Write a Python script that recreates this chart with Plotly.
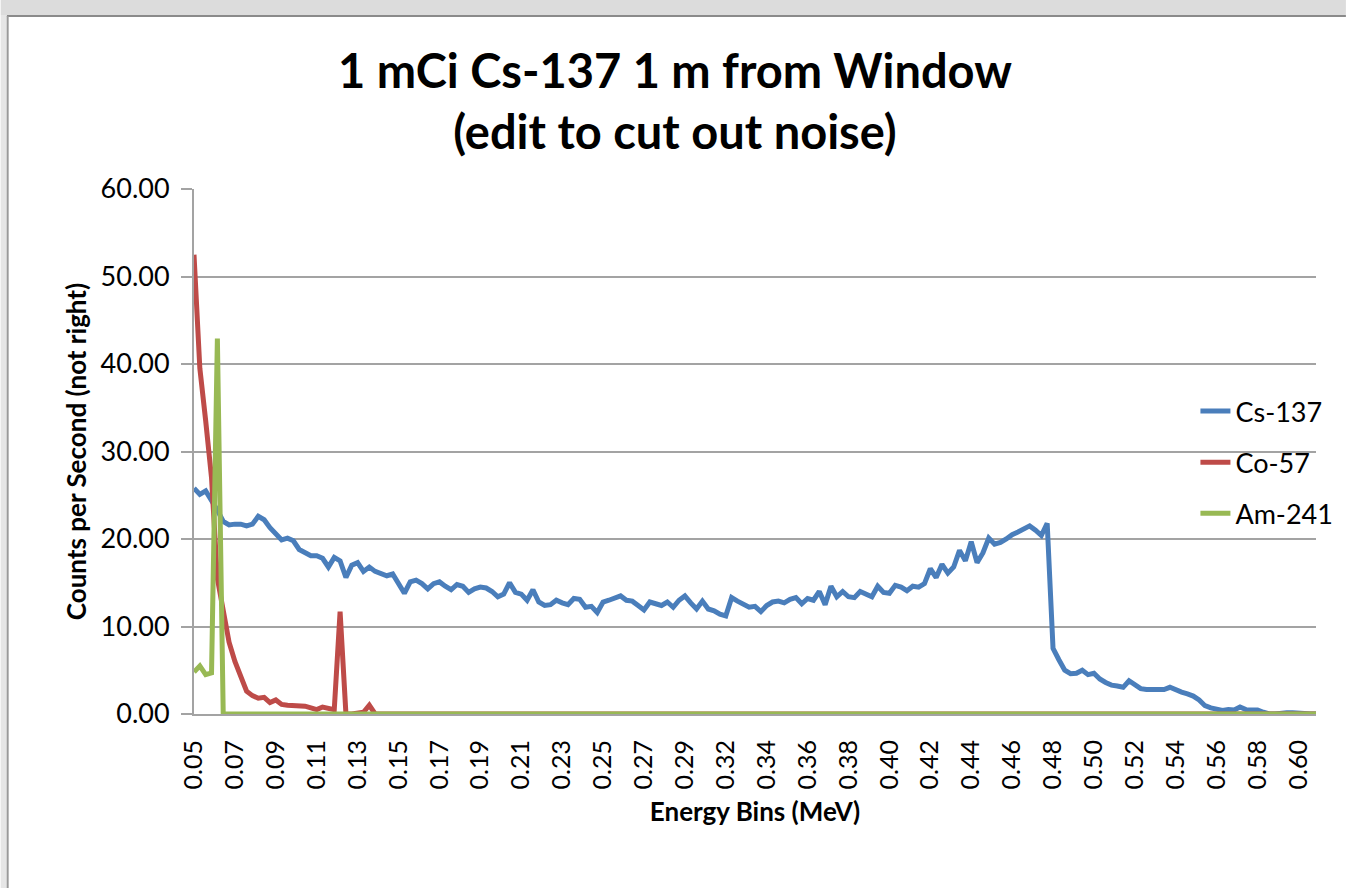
import plotly.graph_objects as go

# ---------------- data ----------------
series_names = ["Cs-137", "Co-57", "Am-241"]
series_colors = ["#4A7EBB", "#BE4B48", "#98B954"]

# Energy bins (MeV): regular bins starting at 0.050 MeV
bin_start_mev = 0.0500
bin_width_mev = 0.002914
n_bins = 193

tick_labels = ["0.05", "0.07", "0.09", "0.11", "0.13", "0.15", "0.17", "0.19",
               "0.21", "0.23", "0.25", "0.27", "0.29", "0.32", "0.34", "0.36",
               "0.38", "0.40", "0.42", "0.44", "0.46", "0.48", "0.50", "0.52",
               "0.54", "0.56", "0.58", "0.60"]
label_every = 7

cs137 = [
    25.8, 25.1, 25.5, 24.5, 23.3, 22.0, 21.6, 21.7, 21.7, 21.5,
    21.7, 22.6, 22.2, 21.3, 20.6, 19.9, 20.1, 19.8, 18.8, 18.4,
    18.1, 18.1, 17.8, 16.8, 17.9, 17.5, 15.6, 17.0, 17.3, 16.3,
    16.8, 16.3, 16.0, 15.8, 16.0, 14.9, 13.8, 15.1, 15.3, 14.9,
    14.3, 14.9, 15.1, 14.6, 14.2, 14.8, 14.6, 13.9, 14.3, 14.5,
    14.4, 14.0, 13.4, 13.7, 15.0, 13.9, 13.7, 13.0, 14.2, 12.8,
    12.4, 12.5, 13.0, 12.7, 12.5, 13.2, 13.1, 12.2, 12.3, 11.6,
    12.8, 13.0, 13.3, 13.5, 13.0, 12.9, 12.4, 11.9, 12.8, 12.6,
    12.4, 12.8, 12.2, 13.0, 13.5, 12.7, 12.0, 12.9, 12.0, 11.8,
    11.4, 11.2, 13.3, 12.9, 12.5, 12.2, 12.3, 11.7, 12.4, 12.8,
    12.9, 12.7, 13.1, 13.3, 12.6, 13.2, 13.0, 14.0, 12.5, 14.6,
    13.4, 14.0, 13.4, 13.3, 14.0, 13.7, 13.4, 14.6, 13.9, 13.8,
    14.7, 14.5, 14.1, 14.6, 14.5, 14.9, 16.6, 15.6, 17.1, 16.1,
    16.8, 18.7, 17.5, 19.7, 17.3, 18.4, 20.1, 19.4, 19.6, 20.0,
    20.5, 20.8, 21.1, 21.5, 21.0, 20.4, 21.8, 7.5, 6.2, 5.0,
    4.6, 4.65, 5.0, 4.5, 4.65, 4.0, 3.6, 3.3, 3.2, 3.05,
    3.8, 3.3, 2.9, 2.8, 2.8, 2.8, 2.8, 3.05, 2.7, 2.5,
    2.3, 2.05, 1.6, 0.95, 0.7, 0.6, 0.4, 0.5, 0.45, 0.8,
    0.5, 0.45, 0.45, 0.2, 0.0, 0.0, 0.1, 0.15, 0.15, 0.15,
    0.05, 0.0, 0.0,
]

co57 = [
    52.5, 39.5, 33.5, 27.0, 15.5, 11.5, 8.2, 6.0, 4.2, 2.6,
    2.1, 1.8, 1.9, 1.3, 1.6, 1.1, 1.0, 0.95, 0.95, 0.9,
    0.7, 0.5, 0.8, 0.6, 0.5, 11.7, 0.0, 0.0, 0.1, 0.2,
    1.0, 0.0, 0.0, 0.0, 0.0, 0.0, 0.0, 0.0, 0.0, 0.0,
    0.0, 0.0, 0.0, 0.0, 0.0, 0.0, 0.0, 0.0, 0.0, 0.0,
    0.0, 0.0, 0.0, 0.0, 0.0, 0.0, 0.0, 0.0, 0.0, 0.0,
    0.0, 0.0, 0.0, 0.0, 0.0, 0.0, 0.0, 0.0, 0.0, 0.0,
    0.0, 0.0, 0.0, 0.0, 0.0, 0.0, 0.0, 0.0, 0.0, 0.0,
    0.0, 0.0, 0.0, 0.0, 0.0, 0.0, 0.0, 0.0, 0.0, 0.0,
    0.0, 0.0, 0.0, 0.0, 0.0, 0.0, 0.0, 0.0, 0.0, 0.0,
    0.0, 0.0, 0.0, 0.0, 0.0, 0.0, 0.0, 0.0, 0.0, 0.0,
    0.0, 0.0, 0.0, 0.0, 0.0, 0.0, 0.0, 0.0, 0.0, 0.0,
    0.0, 0.0, 0.0, 0.0, 0.0, 0.0, 0.0, 0.0, 0.0, 0.0,
    0.0, 0.0, 0.0, 0.0, 0.0, 0.0, 0.0, 0.0, 0.0, 0.0,
    0.0, 0.0, 0.0, 0.0, 0.0, 0.0, 0.0, 0.0, 0.0, 0.0,
    0.0, 0.0, 0.0, 0.0, 0.0, 0.0, 0.0, 0.0, 0.0, 0.0,
    0.0, 0.0, 0.0, 0.0, 0.0, 0.0, 0.0, 0.0, 0.0, 0.0,
    0.0, 0.0, 0.0, 0.0, 0.0, 0.0, 0.0, 0.0, 0.0, 0.0,
    0.0, 0.0, 0.0, 0.0, 0.0, 0.0, 0.0, 0.0, 0.0, 0.0,
    0.0, 0.0, 0.0,
]

am241 = [
    4.8, 5.5, 4.5, 4.7, 42.9, 0.0, 0.0, 0.0, 0.0, 0.0,
    0.0, 0.0, 0.0, 0.0, 0.0, 0.0, 0.0, 0.0, 0.0, 0.0,
    0.0, 0.0, 0.0, 0.0, 0.0, 0.0, 0.0, 0.0, 0.0, 0.0,
    0.0, 0.0, 0.0, 0.0, 0.0, 0.0, 0.0, 0.0, 0.0, 0.0,
    0.0, 0.0, 0.0, 0.0, 0.0, 0.0, 0.0, 0.0, 0.0, 0.0,
    0.0, 0.0, 0.0, 0.0, 0.0, 0.0, 0.0, 0.0, 0.0, 0.0,
    0.0, 0.0, 0.0, 0.0, 0.0, 0.0, 0.0, 0.0, 0.0, 0.0,
    0.0, 0.0, 0.0, 0.0, 0.0, 0.0, 0.0, 0.0, 0.0, 0.0,
    0.0, 0.0, 0.0, 0.0, 0.0, 0.0, 0.0, 0.0, 0.0, 0.0,
    0.0, 0.0, 0.0, 0.0, 0.0, 0.0, 0.0, 0.0, 0.0, 0.0,
    0.0, 0.0, 0.0, 0.0, 0.0, 0.0, 0.0, 0.0, 0.0, 0.0,
    0.0, 0.0, 0.0, 0.0, 0.0, 0.0, 0.0, 0.0, 0.0, 0.0,
    0.0, 0.0, 0.0, 0.0, 0.0, 0.0, 0.0, 0.0, 0.0, 0.0,
    0.0, 0.0, 0.0, 0.0, 0.0, 0.0, 0.0, 0.0, 0.0, 0.0,
    0.0, 0.0, 0.0, 0.0, 0.0, 0.0, 0.0, 0.0, 0.0, 0.0,
    0.0, 0.0, 0.0, 0.0, 0.0, 0.0, 0.0, 0.0, 0.0, 0.0,
    0.0, 0.0, 0.0, 0.0, 0.0, 0.0, 0.0, 0.0, 0.0, 0.0,
    0.0, 0.0, 0.0, 0.0, 0.0, 0.0, 0.0, 0.0, 0.0, 0.0,
    0.0, 0.0, 0.0, 0.0, 0.0, 0.0, 0.0, 0.0, 0.0, 0.0,
    0.0, 0.0, 0.0,
]

energy_bins = [round(bin_start_mev + i * bin_width_mev, 6) for i in range(n_bins)]
tick_vals = energy_bins[::label_every][:len(tick_labels)]

# ---------------- figure ----------------
W, H = 1350, 888
ML, MR, MT, MB = 194, 30, 189, 174
PW, PH = W - ML - MR, H - MT - MB

def px(xp):
    return (xp - ML) / PW

def py(yp):
    return (H - MB - yp) / PH

FONT = "Lato, 'Open Sans', sans-serif"
GRID = "#A3A3A3"

fig = go.Figure()
for name, vals, color in zip(series_names, [cs137, co57, am241], series_colors):
    fig.add_trace(go.Scatter(
        x=energy_bins, y=vals, name=name, mode="lines",
        line=dict(color=color, width=5),
        legendgroup=name,
    ))

shapes = [
    # window chrome: top grey bar and left border
    dict(type="rect", xref="paper", yref="paper", x0=px(0), x1=px(W), y0=py(0), y1=py(15),
         fillcolor="#DCDCDC", line=dict(width=0), layer="above"),
    dict(type="line", xref="paper", yref="paper", x0=px(6), x1=px(W), y0=py(16), y1=py(16),
         line=dict(color="#8A8A8A", width=2), layer="above"),
    dict(type="rect", xref="paper", yref="paper", x0=px(0), x1=px(6), y0=py(H), y1=py(15),
         fillcolor="#E6E6E6", line=dict(width=0), layer="above"),
    dict(type="line", xref="paper", yref="paper", x0=px(7), x1=px(7), y0=py(16), y1=py(H),
         line=dict(color="#9A9A9A", width=2), layer="above"),
]

fig.update_layout(
    width=W, height=H, autosize=False,
    margin=dict(l=ML, r=MR, t=MT, b=MB, pad=0),
    paper_bgcolor="white", plot_bgcolor="white",
    font=dict(family=FONT, color="#000000"),
    title=dict(
        text="1 mCi Cs-137 1 m from Window<br>(edit to cut out noise)",
        font=dict(family=FONT, size=47, weight="bold", color="#000000"),
        x=0.5, xref="container", xanchor="center",
        y=1 - 88 / H, yref="container", yanchor="top",
    ),
    xaxis=dict(
        range=[energy_bins[0], energy_bins[-1]],
        tickmode="array", tickvals=tick_vals, ticktext=tick_labels,
        tickangle=-90, tickfont=dict(family=FONT, size=25),
        showgrid=False, zeroline=False,
        showline=True, linecolor=GRID, linewidth=2,
        ticks="", ticklabelstandoff=14,
        title=dict(text="Energy Bins (MeV)", standoff=14,
                   font=dict(family=FONT, size=26, weight="bold")),
    ),
    yaxis=dict(
        range=[0, 60], dtick=10, tick0=0, tickformat=".2f",
        tickfont=dict(family=FONT, size=27),
        showgrid=True, gridcolor=GRID, gridwidth=2,
        zeroline=False,
        showline=True, linecolor=GRID, linewidth=2,
        ticks="outside", ticklen=11, tickcolor=GRID, tickwidth=2,
        ticklabelstandoff=6,
        title=dict(text="Counts per Second (not right)", standoff=6,
                   font=dict(family=FONT, size=26, weight="bold")),
    ),
    legend=dict(
        x=px(1199), xanchor="left", y=py(387), yanchor="top",
        bgcolor="rgba(0,0,0,0)", borderwidth=0,
        font=dict(family=FONT, size=27, color="#000000"),
        tracegroupgap=13, itemwidth=30,
    ),
    shapes=shapes,
    showlegend=True,
)

fig.write_html("out.html", include_plotlyjs=True, full_html=True,
               config={"displayModeBar": False},
               post_script="document.body.style.margin='0';document.body.style.overflow='hidden';")
